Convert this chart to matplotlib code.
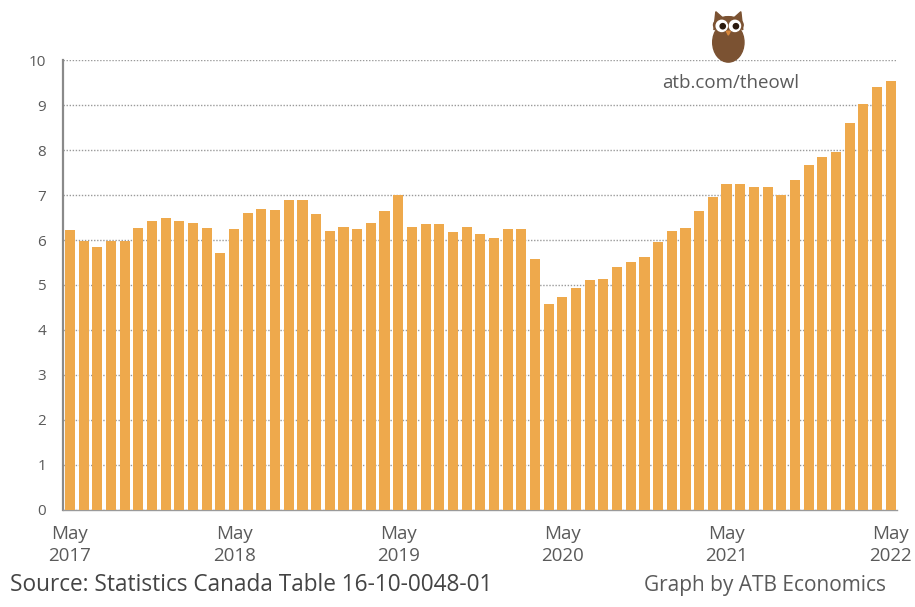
import matplotlib
matplotlib.use("Agg")
import matplotlib.pyplot as plt
from matplotlib.patches import Ellipse, Circle, Polygon

# monthly values, May 2017 .. May 2022
values_2017 = [6.22, 5.98, 5.84, 5.98, 5.98, 6.26, 6.43, 6.48]
values_2018 = [6.43, 6.37, 6.26, 5.72, 6.25, 6.59, 6.68, 6.67, 6.89, 6.90, 6.57, 6.20]
values_2019 = [6.30, 6.25, 6.37, 6.65, 7.00, 6.29, 6.35, 6.35, 6.17, 6.30, 6.14, 6.05]
values_2020 = [6.24, 6.25, 5.58, 4.57, 4.73, 4.93, 5.10, 5.13, 5.40, 5.50, 5.63, 5.96]
values_2021 = [6.21, 6.27, 6.64, 6.95, 7.24, 7.24, 7.17, 7.17, 7.01, 7.33, 7.67, 7.84]
values_2022 = [7.96, 8.61, 9.02, 9.41, 9.54]
values = values_2017 + values_2018 + values_2019 + values_2020 + values_2021 + values_2022

tick_pos = [0, 12, 24, 36, 48, 60]
tick_labels = ["May\n2017", "May\n2018", "May\n2019", "May\n2020", "May\n2021", "May\n2022"]

BAR = "#EEA94C"
GREY_TXT = "#5a5a5a"

plt.rcParams["font.family"] = ["Open Sans", "DejaVu Sans"]

fig = plt.figure(figsize=(9.15, 6.07), dpi=100)
ax = fig.add_axes([0.0685, 0.160, 0.9115, 0.741])

ax.bar(range(len(values)), values, width=0.74, color=BAR, zorder=3)

ax.set_ylim(0, 10)
ax.set_xlim(-0.53, 60.44)
ax.set_yticks(range(0, 11))
ax.set_xticks(tick_pos)
ax.set_xticklabels(tick_labels, linespacing=1.25)
ax.tick_params(axis="both", length=0, labelcolor=GREY_TXT)
ax.tick_params(axis="y", pad=12, labelsize=11)
ax.tick_params(axis="x", pad=11, labelsize=13.5)
ax.yaxis.grid(True, linestyle=(0, (1, 1.2)), color="#9a9a9a", linewidth=1, zorder=0)

for side in ("top", "right"):
    ax.spines[side].set_visible(False)
ax.spines["left"].set_color("#8a8a8a")
ax.spines["left"].set_linewidth(1.6)
ax.spines["bottom"].set_color("#9a9a9a")
ax.spines["bottom"].set_linewidth(1)

fig.text(0.011, 0.027, "Source: Statistics Canada Table 16-10-0048-01",
         fontsize=16.3, color="#444444", ha="left", va="baseline")
fig.text(0.968, 0.027, "Graph by ATB Economics",
         fontsize=15, color=GREY_TXT, ha="right", va="baseline")
fig.text(0.798, 0.863, "atb.com/theowl", fontsize=13.5, color=GREY_TXT,
         ha="center", va="center")

# small owl logo
owl = fig.add_axes([0.778, 0.896, 0.036, 0.088])
owl.set_xlim(0, 1)
owl.set_ylim(0, 1.6)
owl.set_aspect("equal")
owl.axis("off")
brown = "#7b5232"
owl.add_patch(Ellipse((0.5, 0.62), 0.95, 1.2, color=brown))
owl.add_patch(Polygon([[0.06, 1.0], [0.12, 1.55], [0.4, 1.3]], color=brown))
owl.add_patch(Polygon([[0.94, 1.0], [0.88, 1.55], [0.6, 1.3]], color=brown))
owl.add_patch(Ellipse((0.5, 1.15), 0.9, 0.5, color=brown))
for cx in (0.3, 0.7):
    owl.add_patch(Circle((cx, 1.12), 0.17, color="white"))
    owl.add_patch(Circle((cx + 0.03, 1.11), 0.08, color="#2b1a0e"))
owl.add_patch(Polygon([[0.44, 0.96], [0.56, 0.96], [0.5, 0.84]], color="#d9883c"))

fig.savefig("out.png", dpi=100)
